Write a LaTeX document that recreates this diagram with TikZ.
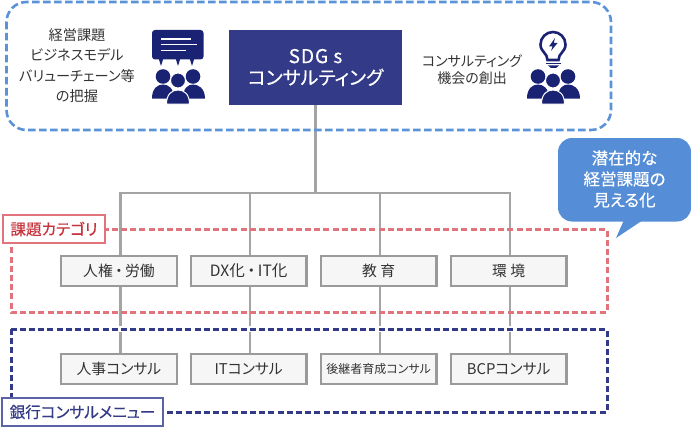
\documentclass[tikz,border=0pt]{standalone}
\usepackage{fontspec}
\setmainfont[RawFeature=+palt]{Noto Sans CJK JP}
\newfontfamily\mediumfont[RawFeature=+palt, FakeBold=0.35]{Noto Sans CJK JP}
\usetikzlibrary{positioning}
\definecolor{frameblue}{HTML}{5A93D8}
\definecolor{calloutblue}{HTML}{558DD6}
\definecolor{mainnavy}{HTML}{333A87}
\definecolor{iconnavy}{HTML}{1A2273}
\definecolor{framered}{HTML}{E0737C}
\definecolor{labelred}{HTML}{C8323C}
\definecolor{labelblue}{HTML}{5A62A8}
\definecolor{boxgray}{HTML}{9A9A9A}
\definecolor{boxfill}{HTML}{F6F6F6}
\definecolor{textgray}{HTML}{333333}

\tikzset{
    topicbox/.style={draw=boxgray, fill=boxfill, line width=2.4pt, minimum width=115.5pt,
        minimum height=29.5pt, inner sep=0pt, text=textgray, font=\fontsize{14.8}{16}\selectfont},
    grayline/.style={draw=boxgray!90, line width=2.2pt},
    introtext/.style={align=center, text=textgray, inner sep=0pt},
    tagbox/.style={fill=white, line width=2.4pt, inner sep=0pt, minimum height=28.5pt,
        font=\mediumfont\fontsize{15.6}{17}\selectfont},
}

% one group of three people, shifted by \dx
\newcommand{\peopleicon}[1]{
    \begin{scope}[xshift=#1pt]
        \fill[iconnavy] (163,76.5) circle (7.3);
        \fill[iconnavy] (193,76.5) circle (7.3);
        \fill[iconnavy] (152,98.5) .. controls (152,88) and (158,84.5) .. (163,84.5)
            .. controls (168,84.5) and (174,88) .. (174,98.5) -- cycle;
        \fill[iconnavy] (183,98.5) .. controls (183,88) and (188,84.5) .. (193,84.5)
            .. controls (198,84.5) and (205,88) .. (205,98.5) -- cycle;
        \filldraw[iconnavy, draw=white, line width=1pt] (178,80.5) circle (7.5);
        \filldraw[iconnavy, draw=white, line width=1pt] (166.5,104) .. controls (166.5,94) and (172,90) .. (178,90)
            .. controls (184,90) and (189.5,94) .. (189.5,104) -- cycle;
    \end{scope}
}

\begin{document}
\begin{tikzpicture}[x=1pt, y=-1pt]
    \useasboundingbox (0,0) rectangle (691,428);

    % Top row
    \node[fill=mainnavy, minimum width=173pt, minimum height=75pt, inner sep=0pt, align=center,
        text=white, font=\mediumfont\fontsize{19}{21.5}\selectfont] (sdgs) at (315.5,67.5) {S\kern1ptD\kern1ptG\kern1pt\ s\\コンサルティング};
    \node[introtext, font=\fontsize{14.2}{20.5}\selectfont] (issues) at (77,65.5)
        {経営課題\\ビジネスモデル\\バリューチェーン等\\の把握};
    \node[introtext, font=\fontsize{14}{17.5}\selectfont] (chance) at (472,69.5)
        {コンサルティング\\機会の創出};

    % Speech bubble icon
    \fill[iconnavy, rounded corners=3pt] (152,30) rectangle (203.5,59.5);
    \foreach \x in {161,178,192} {
        \fill[iconnavy] (\x-2.5,58) -- (\x+2.5,58) -- (\x,66) -- cycle;
    }
    \draw[white, line width=1.4pt] (161,39) -- (191,39);
    \draw[white, line width=1.4pt] (161,44.5) -- (197,44.5);
    \draw[white, line width=1.4pt] (161,50.5) -- (186,50.5);
    \peopleicon{0}

    % Light bulb icon
    \draw[iconnavy, line width=2.6pt] (547.5,60) .. controls (547.5,53) and (540.5,52) .. (540.5,44.5)
        arc[start angle=180, end angle=360, radius=12.5]
        .. controls (565.5,52) and (558.5,53) .. (558.5,60) -- cycle;
    \fill[iconnavy] (555,38) -- (549,46.5) -- (552.5,46.5) -- (551,51) -- (557.5,43) -- (553.8,43) -- cycle;
    \draw[iconnavy, line width=1.6pt] (546,63.5) -- (561,63.5);
    \fill[iconnavy] (548,65.5) -- (559,65.5) -- (556,68) -- (551,68) -- cycle;
    \peopleicon{375}

    % Category and menu boxes
    \foreach \i/\x/\cat/\menu in {1/119/人権\,・\,労働/人事コンサル, 2/248.7/{\fontsize{15.6}{16}\selectfont DX化\,・\,IT化}/ITコンサル,
        3/378.7/教 育/{\fontsize{12}{14}\selectfont 後継者育成コンサル}, 4/508.7/環 境/BCPコンサル} {
        \node[topicbox] (cat\i) at (\x,271) {\cat};
        \node[topicbox] (menu\i) at (\x,369) {\menu};
    }

    % Connectors
    \coordinate (hub) at (315.5,193);
    \draw[grayline] (sdgs.south) -- (hub);
    \foreach \i in {1,...,4} {
        \draw[grayline] (hub) -| ([xshift=1.5pt]cat\i.north);
        \draw[grayline] ([xshift=1.5pt]cat\i.south) -- ([xshift=1.5pt]menu\i.north);
    }

    % Dashed frames
    \draw[frameblue, line width=2.6pt, dash pattern=on 7.5pt off 3.5pt, rounded corners=20pt] (6.5,2) rectangle (611,130);
    \draw[framered, line width=3pt, dash pattern=on 6pt off 3.2pt] (11,229) rectangle (607,312);
    \draw[white, line width=6pt] (11,329) rectangle (607,412);
    \draw[mainnavy, line width=3pt, dash pattern=on 6pt off 3.2pt] (11,329) rectangle (607,412);

    % Frame labels
    \node[tagbox, draw=framered, text=labelred, minimum width=102pt] (catlabel) at (54,229) {課題カテゴリ};
    \node[tagbox, draw=labelblue, text=mainnavy, minimum width=161.5pt] (menulabel) at (82.5,412) {銀行コンサルメニュー};

    % Callout
    \fill[calloutblue, rounded corners=14pt] (558,138) rectangle (691,221.5);
    \fill[calloutblue] (624,220) -- (643,220) -- (616,238) -- cycle;
    \node[align=center, text=white, inner sep=0pt, font=\mediumfont\fontsize{16.5}{21}\selectfont] (callout) at (624.5,179)
        {潜在的な\\経営課題の\\見える化};
\end{tikzpicture}
\end{document}
